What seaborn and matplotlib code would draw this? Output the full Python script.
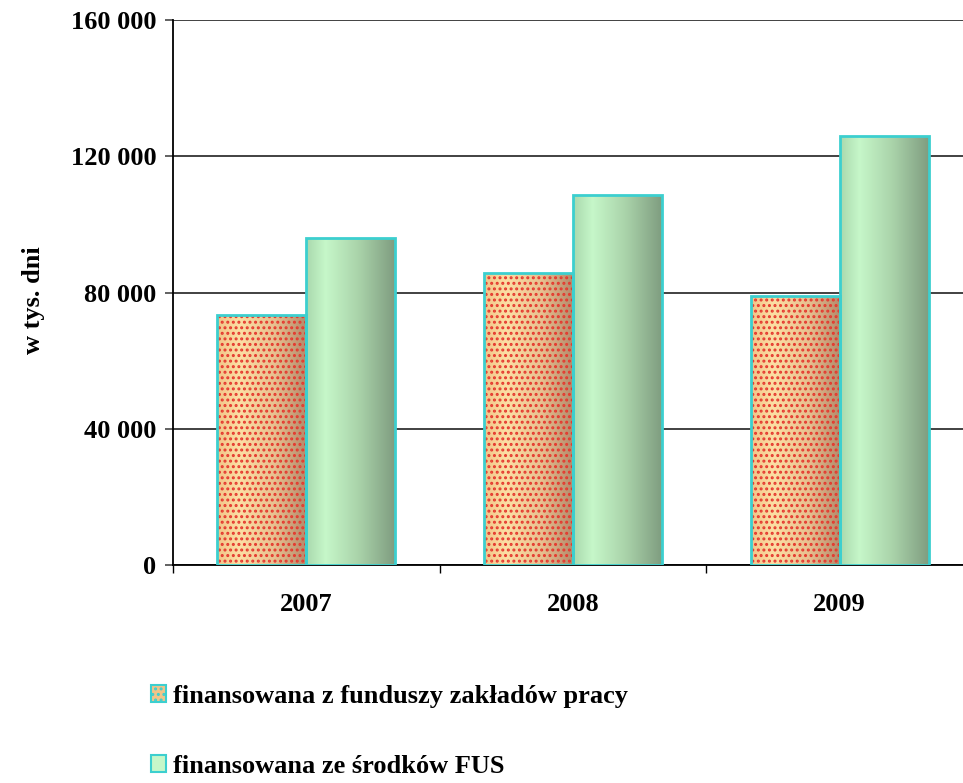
"""
plot.py

Absence days chart: employer funds vs FUS, 2007-2009.
"""

import matplotlib.pyplot as plt
import numpy as np
import pandas as pd
import seaborn as sns
from matplotlib.colors import LinearSegmentedColormap
from matplotlib.patches import Patch, Rectangle
from matplotlib.ticker import FuncFormatter, FixedLocator

# --------------------------------
# data

years = ["2007", "2008", "2009"]
series = [
    "finansowana z funduszy zakładów pracy",
    "finansowana ze środków FUS",
]
zaklady = [73400, 85700, 79000]
fus = [96000, 108600, 126000]

y_ticks = [0, 40000, 80000, 120000, 160000]

df = pd.DataFrame({
    "rok": years * 2,
    "seria": [series[0]] * 3 + [series[1]] * 3,
    "wartosc": zaklady + fus,
})

# --------------------------------

sns.set_style("white")
plt.rcParams["font.family"] = ["Liberation Serif", "DejaVu Serif"]
plt.rcParams["font.weight"] = "bold"
plt.rcParams["text.color"] = "black"
plt.rcParams["xtick.color"] = "black"
plt.rcParams["ytick.color"] = "black"
plt.rcParams["axes.labelcolor"] = "black"
plt.rcParams["hatch.linewidth"] = 1.4

edge = "#3ccfcf"

fig = plt.figure(figsize=(9.63, 7.83), dpi=100)
ax = fig.add_axes([173 / 963, 1 - 565 / 783, 800 / 963, 545 / 783])

sns.barplot(
    data=df, x="rok", y="wartosc", hue="seria",
    width=0.667, palette=["#f2c58f", "#bfeec4"],
    legend=False, ax=ax, zorder=3,
)

green = LinearSegmentedColormap.from_list(
    "g", [(0, "#a9d8ad"), (0.22, "#c6f7c9"), (0.6, "#a9d2a9"), (1, "#7f9d80")])
orange = LinearSegmentedColormap.from_list(
    "o", [(0, "#f2c488"), (0.25, "#fcdfa4"), (0.65, "#e8c090"), (1, "#b48c6c")])

grad = np.linspace(0, 1, 256).reshape(1, -1)

for cont, cmap, dotted in zip(ax.containers, [orange, green], [True, False]):
    for bar in cont:
        x0, y0 = bar.get_x(), bar.get_y()
        w, h = bar.get_width(), bar.get_height()
        bar.set_facecolor("none")
        bar.set_edgecolor(edge)
        bar.set_linewidth(2)
        bar.set_zorder(5)
        im = ax.imshow(grad, cmap=cmap, aspect="auto",
                       extent=(x0, x0 + w, y0, y0 + h), zorder=3)
        im.set_clip_path(bar)
        if dotted:
            dots = Rectangle((x0, y0), w, h, facecolor="none",
                             edgecolor="#e5392f", linewidth=0,
                             hatch="...", zorder=4)
            ax.add_patch(dots)

ax.set_xlim(-0.5, 2.5)
ax.set_ylim(0, 160000)

ax.yaxis.set_major_locator(FixedLocator(y_ticks))
ax.yaxis.set_major_formatter(
    FuncFormatter(lambda v, p: f"{int(v):,}".replace(",", " ")))
ax.grid(axis="y", color="#333333", linewidth=1.3, zorder=0)
ax.set_axisbelow(True)

for s in ["top", "right"]:
    ax.spines[s].set_visible(False)
for s in ["left", "bottom"]:
    ax.spines[s].set_color("black")
    ax.spines[s].set_linewidth(1.3)

ax.tick_params(axis="y", which="major", length=6, width=1.3,
               color="#555555", pad=6, labelsize=19, left=True)
ax.xaxis.set_minor_locator(FixedLocator([-0.5, 0.5, 1.5, 2.5]))
ax.tick_params(axis="x", which="minor", length=6, width=1.0,
               color="black", bottom=True)
ax.tick_params(axis="x", which="major", length=0, pad=20, labelsize=19)

for lab in ax.get_xticklabels() + ax.get_yticklabels():
    lab.set_fontweight("bold")
    lab.set_color("black")

ax.set_xlabel("")
ax.set_ylabel("w tys. dni", fontsize=19, fontweight="bold", color="black")
ax.yaxis.set_label_coords(-0.16, 0.486)

handles = [
    Patch(facecolor="#f2c488", edgecolor=edge, hatch="...", linewidth=1.5),
    Patch(facecolor="#c6f7c9", edgecolor=edge, linewidth=1.5),
]
leg = fig.legend(
    handles, series, loc="upper left",
    bbox_to_anchor=(140 / 963, 1 - 674 / 783),
    frameon=False, prop={"size": 19, "weight": "bold"},
    handlelength=0.6, handleheight=0.6, handletextpad=0.25,
    labelspacing=1.8, borderaxespad=0,
)
for t in leg.get_texts():
    t.set_color("black")

fig.savefig("out.png", dpi=100)
plt.close(fig)
